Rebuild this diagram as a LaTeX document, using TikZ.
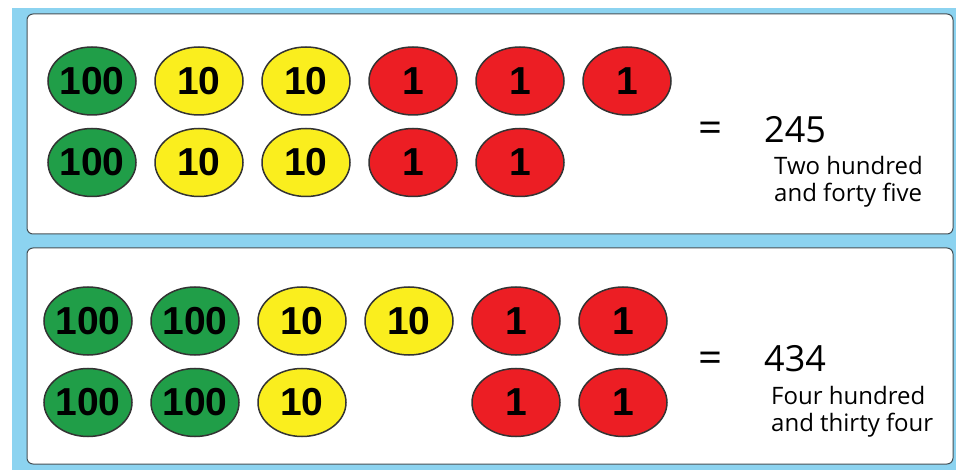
\documentclass[tikz,border=0pt]{standalone}
\usepackage{fontspec}
\setmainfont{Open Sans}
\newfontfamily\coinfont{Liberation Sans}
\usetikzlibrary{positioning,shapes.geometric}

\definecolor{bgblue}{RGB}{140,211,240}
\definecolor{coingreen}{RGB}{32,158,72}
\definecolor{coinyellow}{RGB}{250,238,30}
\definecolor{coinred}{RGB}{236,30,36}
\definecolor{rimgrey}{RGB}{70,80,85}

\begin{document}
\begin{tikzpicture}[
	x=1pt,y=-1pt,
	node distance=12pt and 17.5pt,
	coin/.style={
		ellipse,
		draw=black!80,
		line width=1.5pt,
		minimum width=88pt,
		minimum height=68pt,
		inner xsep=-14pt,
		inner ysep=0pt,
		font=\coinfont\bfseries\fontsize{39}{39}\selectfont
	},
	hundred/.style={coin, fill=coingreen},
	ten/.style={coin, fill=coinyellow},
	unit/.style={coin, fill=coinred},
	panel/.style={
		draw=rimgrey,
		line width=1pt,
		fill=white,
		rounded corners=6pt
	},
	total/.style={font=\fontsize{36}{36}\selectfont, inner sep=0pt},
	equals/.style={font=\fontsize{42}{42}\selectfont, inner sep=0pt},
	words/.style={align=left, inner sep=0pt, font=\fontsize{24}{27}\selectfont}
	]
	
	\useasboundingbox (0,0) rectangle (956,470);
	\fill[bgblue] (12,8) rectangle (956,470);
	\draw[panel] (27,14) rectangle (953,234);
	\draw[panel] (27,248) rectangle (953,464);
	
	% first panel
	\node[hundred] (t1) at (92,81) {100};
	\node[ten] (t2) [right=of t1] {10};
	\node[ten] (t3) [right=of t2] {10};
	\node[unit] (t4) [right=of t3] {1};
	\node[unit] (t5) [right=of t4] {1};
	\node[unit] (t6) [right=of t5] {1};
	\node[hundred] (u1) [below=of t1] {100};
	\node[ten] (u2) [right=of u1] {10};
	\node[ten] (u3) [right=of u2] {10};
	\node[unit] (u4) [right=of u3] {1};
	\node[unit] (u5) [right=of u4] {1};
	
	\node[equals] (eqa) at (710,132) {=};
	\node[total, anchor=west] (suma) at (764,130) {245};
	\node[words, anchor=north west] (worda) at (774,156) {Two hundred\\and forty five};
	
	% second panel
	\node[hundred] (b1) at (88,321) {100};
	\node[hundred] (b2) [right=of b1] {100};
	\node[ten] (b3) [right=of b2] {10};
	\node[ten] (b4) [right=of b3] {10};
	\node[unit] (b5) [right=of b4] {1};
	\node[unit] (b6) [right=of b5] {1};
	\node[hundred] (c1) [below=of b1] {100};
	\node[hundred] (c2) [right=of c1] {100};
	\node[ten] (c3) [right=of c2] {10};
	\node[unit] (c4) [below=of b5] {1};
	\node[unit] (c5) [right=of c4] {1};
	
	\node[equals] (eqb) at (710,362) {=};
	\node[total, anchor=west] (sumb) at (764,359) {434};
	\node[words, anchor=north west] (wordb) at (771,386) {Four hundred\\and thirty four};
	
\end{tikzpicture}
\end{document}
